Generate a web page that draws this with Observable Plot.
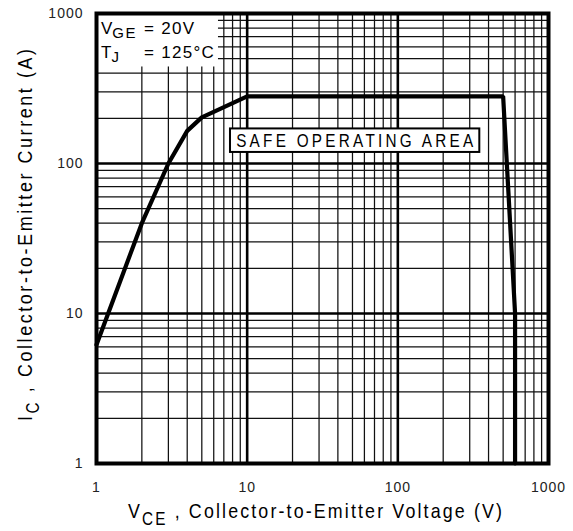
<!DOCTYPE html>
<html>
<head>
<meta charset="utf-8">
<script src="https://cdn.jsdelivr.net/npm/d3@7"></script>
<script src="https://cdn.jsdelivr.net/npm/@observablehq/plot@0.6"></script>
<style>
  html, body { margin: 0; padding: 0; background: #fff; }
  svg text { font-family: "Liberation Sans", Arial, sans-serif; }
</style>
</head>
<body>
<script>
// Safe operating area boundary (VCE in V, IC in A)
const vce = [1, 2, 3, 4, 5, 10, 500, 600, 600];
const ic  = [6.2, 40, 100, 165, 203, 280, 280, 10, 1];

// Axis tick labels
const xTicks = [1, 10, 100, 1000];
const yTicks = [1, 10, 100, 1000];
const majorGrid = [10, 100];
const decades = [1, 10, 100];
const minorSteps = [2, 3, 4, 5, 6, 7, 8, 9];

const minorGrid = decades.flatMap(d => minorSteps.map(k => d * k));
const curve = vce.map((v, i) => ({v, i: ic[i]}));

// Annotation boxes (data-space)
const condBox = [{x1: 1, x2: 6.45, y1: 440, y2: 1000}];
const soaBox = [{x1: 7.75, x2: 350, y1: 118.5, y2: 170}];

const chart = Plot.plot({
  width: 573,
  height: 531,
  marginLeft: 96,
  marginRight: 25,
  marginTop: 13,
  marginBottom: 68,
  style: {fontFamily: "Liberation Sans, Arial, sans-serif", fontSize: "14px", color: "#000", background: "#fff"},
  x: {type: "log", domain: [1, 1000]},
  y: {type: "log", domain: [1, 1000]},
  marks: [
    Plot.ruleX(minorGrid, {stroke: "#111", strokeWidth: 1.25}),
    Plot.ruleY(minorGrid, {stroke: "#111", strokeWidth: 1.25}),
    Plot.ruleX(majorGrid, {stroke: "#000", strokeWidth: 2.6}),
    Plot.ruleY(majorGrid, {stroke: "#000", strokeWidth: 2.6}),
    Plot.rect(condBox, {x1: "x1", x2: "x2", y1: "y1", y2: "y2", fill: "#fff"}),
    Plot.rect(soaBox, {x1: "x1", x2: "x2", y1: "y1", y2: "y2", fill: "#fff", stroke: "#000", strokeWidth: 2}),
    Plot.line(curve, {x: "v", y: "i", stroke: "#000", strokeWidth: 4.2, strokeLinejoin: "miter"}),
    Plot.frame({stroke: "#000", strokeWidth: 4}),
    Plot.axisX({ticks: xTicks, tickFormat: d => String(d), tickSize: 0, tickPadding: 19, label: null, fill: "#222"}),
    Plot.axisY({ticks: yTicks, tickFormat: d => String(d), tickSize: 0, tickPadding: 13, label: null, fill: "#222"})
  ]
});
document.body.append(chart);

const svg = d3.select(chart);
svg.selectAll("g[aria-label='x-axis tick label'] text, g[aria-label='y-axis tick label'] text")
  .attr("letter-spacing", 1);
const X = chart.scale("x"), Y = chart.scale("y");
const narrow = 0.85;

// Conditions text
const t1 = svg.append("text").attr("text-anchor", "start").attr("x", 101).attr("y", 34).attr("font-size", 17).attr("fill", "#000");
t1.append("tspan").text("V");
t1.append("tspan").attr("font-size", 15).attr("dy", 4).attr("letter-spacing", 1.5).text("GE");
t1.append("tspan").attr("dy", -4).attr("x", 144).attr("letter-spacing", 1.3).text("= 20V");

const t2 = svg.append("text").attr("text-anchor", "start").attr("x", 101).attr("y", 58).attr("font-size", 17).attr("fill", "#000");
t2.append("tspan").text("T");
t2.append("tspan").attr("font-size", 15).attr("dy", 4).text("J");
t2.append("tspan").attr("dy", -4).attr("x", 144).attr("letter-spacing", 1.3).text("= 125°C");

// SOA label
const sx = (X.apply(soaBox[0].x1) + X.apply(soaBox[0].x2)) / 2;
const sy = (Y.apply(soaBox[0].y1) + Y.apply(soaBox[0].y2)) / 2;
svg.append("text").attr("text-anchor", "middle")
  .attr("transform", `translate(${sx},${sy + 7}) scale(${narrow},1)`)
  .attr("font-size", 18).attr("fill", "#000")
  .attr("textLength", 237 / narrow).attr("lengthAdjust", "spacing").text("SAFE OPERATING AREA");

// X axis label
const xl = svg.append("text").attr("text-anchor", "start")
  .attr("transform", `translate(128,518) scale(${narrow},1)`).attr("font-size", 21).attr("fill", "#000")
  .attr("textLength", 374 / narrow).attr("lengthAdjust", "spacing");
xl.append("tspan").text("V");
xl.append("tspan").attr("font-size", 18).attr("dy", 7).text("CE");
xl.append("tspan").attr("dy", -7).text(" , Collector-to-Emitter Voltage (V)");

// Y axis label
const yl = svg.append("text").attr("text-anchor", "start")
  .attr("transform", `translate(32,421) rotate(-90) scale(${narrow},1)`).attr("font-size", 21).attr("fill", "#000")
  .attr("textLength", 372 / narrow).attr("lengthAdjust", "spacing");
yl.append("tspan").text("I");
yl.append("tspan").attr("font-size", 18).attr("dy", 7).text("C");
yl.append("tspan").attr("dy", -7).text(" , Collector-to-Emitter Current (A)");
</script>
</body>
</html>
